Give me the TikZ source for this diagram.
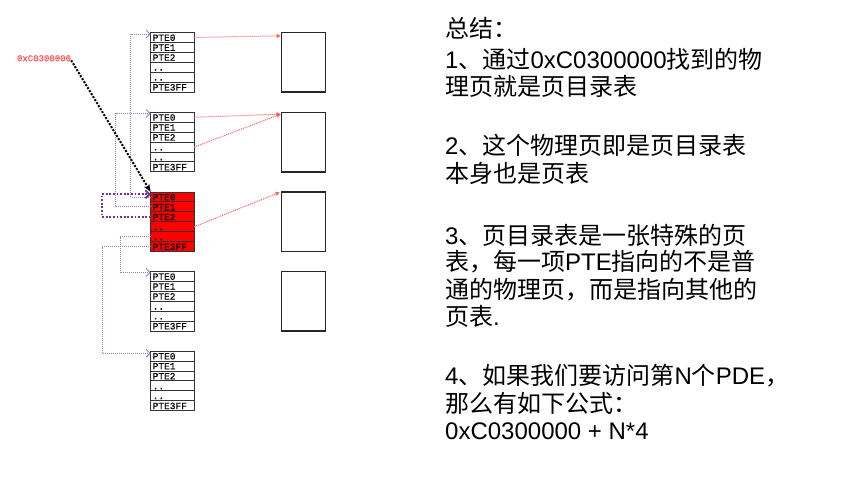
\documentclass[tikz,border=0pt]{standalone}
\usepackage{fontspec}
\setmainfont{Liberation Sans}
\newfontfamily\cjk{Noto Sans CJK SC}
\newfontfamily\ptefont[FakeBold=0.6]{Liberation Mono}
\newfontfamily\addrfont[FakeBold=0.4]{Liberation Mono}
\usetikzlibrary{arrows.meta}
\definecolor{lpur}{RGB}{160,120,210}
\definecolor{dpur}{RGB}{112,48,160}
\definecolor{pred}{RGB}{255,95,95}
\definecolor{lblred}{RGB}{255,80,80}
\definecolor{tred}{RGB}{255,0,0}
\tikzset{
 rowbox/.style={draw=black!80, line width=0.9pt, minimum width=43.6pt, minimum height=9.93pt, inner sep=0pt, outer sep=0pt},
 rowtext/.style={anchor=base west, inner sep=0pt, font=\ptefont\fontsize{9.5}{10}\selectfont, text=black},
 page/.style={draw=black!85, line width=1.3pt, minimum width=44.4pt, minimum height=59.6pt, inner sep=0pt},
 redlink/.style={pred, line width=1pt, dash pattern=on 1pt off 1pt, -{Triangle[length=4pt,width=4pt]}},
 plink/.style={lpur, line width=0.9pt, dash pattern=on 1pt off 1pt, -{Straight Barb[length=4pt,width=8pt]}},
 dlink/.style={dpur, line width=1.8pt, dash pattern=on 1.8pt off 1.8pt, -{Straight Barb[length=4pt,width=8pt]}},
 blink/.style={black, line width=2pt, dash pattern=on 2pt off 1.5pt, -{Stealth[length=8pt,width=6pt]}},
 txt/.style={anchor=base west, inner sep=0pt, font=\fontsize{24}{27}\selectfont},
}
\begin{document}
\begin{tikzpicture}[x=1pt,y=-1pt]
\fill[white] (0,0) rectangle (858,489);
\useasboundingbox (0,0) rectangle (858,489);

% page tables
\foreach \tb/\tp/\fc in {1/32.5/white, 2/112.3/white, 3/192/tred, 4/271.4/white, 5/351.1/white}{
  \foreach \rw/\lab in {1/PTE0, 2/PTE1, 3/PTE2, 4/.., 5/.., 6/PTE3FF}{
    \node[rowbox, fill=\fc] (t\tb r\rw) at (172.5, \tp+\rw*9.93-4.965) {};
    \node[rowtext] (t\tb l\rw) at (152.5, \tp+\rw*9.93-1.6) {\lab};
  }
}

% physical pages
\node[page] (p1) at (303.5, 62.3) {};
\node[page] (p2) at (303.5, 142.1) {};
\node[page] (p3) at (303.5, 221.8) {};
\node[page] (p4) at (303.5, 301.2) {};

% address label
\node[font=\addrfont\fontsize{9}{10}\selectfont, text=lblred, inner sep=0pt] (addr) at (44, 58.3) {0xC0300000};

% red links to pages
\draw[redlink] (t1r1.east) -- ([yshift=-4pt]p1.north west);
\draw[redlink] (t2r1.east) -- ([yshift=-2.5pt]p2.north west);
\draw[redlink] (t2r4.east) -- ([yshift=-2.5pt]p2.north west);
\draw[redlink] (t3r4.east) -- ([yshift=-1pt,xshift=-1pt]p3.north west);

% purple links
\coordinate (b1) at (130.7, 34);
\draw[plink] (t3r1.west) -| (b1) -- (t1r1.west |- b1);
\coordinate (b2) at (115.7, 113.5);
\draw[plink] (t3r2.west) -| (b2) -- (t2r1.west |- b2);
\coordinate (b4) at (120, 272.5);
\draw[plink] (t3r5.west) -| (b4) -- (t4r1.west |- b4);
\coordinate (b5) at (102.3, 353.3);
\draw[plink] (t3r6.west) -| (b5) -- (t5r1.west |- b5);
\coordinate (b3) at (101.7, 194.3);
\draw[dlink] (t3r3.west) -| (b3) -- (t3r1.west |- b3);

% black arrow
\draw[blink] ([yshift=-2pt]addr.east) -- (t3r1.north west);

% summary text
\node[txt] (s0) at (445, 37.3) {\cjk 总结：};
\node[txt] (s1a) at (445, 69) {1{\cjk 、通过}0xC0300000{\cjk 找到的物}};
\node[txt] (s1b) at (445, 95.7) {\cjk 理页就是页目录表};
\node[txt] (s2a) at (445, 154) {2{\cjk 、这个物理页即是页目录表}};
\node[txt] (s2b) at (445, 182.3) {\cjk 本身也是页表};
\node[txt] (s3a) at (445, 244) {3{\cjk 、页目录表是一张特殊的页}};
\node[txt] (s3b) at (445, 270.7) {{\cjk 表，每一项}PTE{\cjk 指向的不是普}};
\node[txt] (s3c) at (445, 298) {\cjk 通的物理页，而是指向其他的};
\node[txt] (s3d) at (445, 325.7) {{\cjk 页表}.};
\node[txt] (s4a) at (445, 384) {4{\cjk 、如果我们要访问第}N{\cjk 个}PDE{\cjk ，}};
\node[txt] (s4b) at (445, 412.3) {\cjk 那么有如下公式：};
\node[txt] (s4c) at (445, 439.5) {0xC0300000 + N*4};
\end{tikzpicture}
\end{document}
